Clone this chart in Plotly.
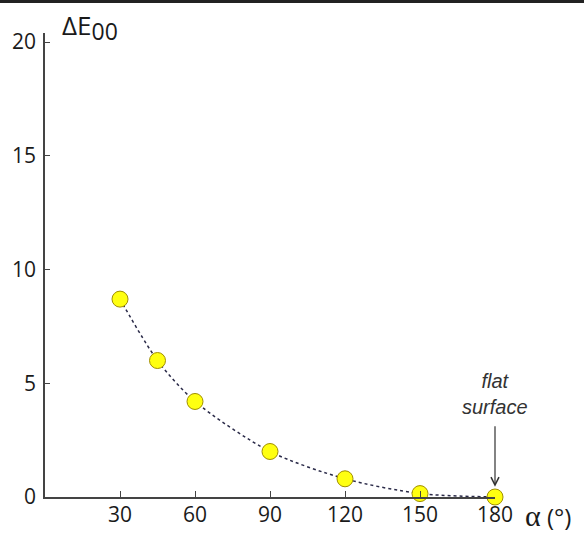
import plotly.graph_objects as go

angles = [30, 45, 60, 90, 120, 150, 180]
delta_e = [8.7, 6.0, 4.2, 2.0, 0.8, 0.15, 0.0]
x_ticks = [30, 60, 90, 120, 150, 180]
y_ticks = [0, 5, 10, 15, 20]

fig = go.Figure()
fig.add_trace(go.Scatter(
    x=angles, y=delta_e, mode="lines+markers",
    line=dict(color="#2a2a48", width=1.5, dash="dot", shape="spline", smoothing=0.8),
    marker=dict(size=16, color="#ffff10", line=dict(color="#a08e00", width=1)),
    cliponaxis=False, showlegend=False,
))

axis_font = dict(family="'Open Sans', Lato, sans-serif", size=21, color="#1a1a1a")
fig.update_xaxes(
    range=[0, 180], tickvals=x_ticks, ticks="inside", ticklen=6, tickcolor="#444",
    showline=True, linecolor="#444", linewidth=1.5, showgrid=False, zeroline=False,
    tickfont=axis_font, ticklabelstandoff=-2, automargin=False,
)
fig.update_yaxes(
    range=[0, 20.4], tickvals=y_ticks, ticks="inside", ticklen=5, tickcolor="#444",
    showline=True, linecolor="#444", linewidth=1.5, showgrid=False, zeroline=False,
    tickfont=axis_font, ticklabelstandoff=3, automargin=False,
)

fig.add_annotation(
    xref="paper", yref="paper", x=0.033, y=1.014, xanchor="left", yanchor="middle",
    text="ΔE<sub><span style='font-size:23px'>00</span></sub>", showarrow=False,
    font=dict(family="'Open Sans', Lato, sans-serif", size=26, color="#1a1a1a"),
)
fig.add_annotation(
    xref="paper", yref="paper", x=1.063, y=-0.04, xanchor="left", yanchor="middle",
    text="<span style='font-family:Liberation Serif;font-size:30px'>α</span> (°)", showarrow=False,
    font=dict(family="'Open Sans', Lato, sans-serif", size=24, color="#1a1a1a"),
)
fig.add_annotation(
    x=180, y=4.55, text="<i>flat<br>surface</i>", showarrow=False,
    font=dict(family="'Liberation Sans Narrow', 'Liberation Sans', Arial, sans-serif", size=20, color="#333"),
    xanchor="center", yanchor="middle",
)
fig.add_annotation(
    x=180, y=0.45, ax=0, ay=-62, text="", showarrow=True,
    arrowhead=5, arrowsize=1.3, arrowwidth=1.2, arrowcolor="#333",
)
fig.add_shape(
    type="line", xref="paper", yref="paper", x0=-0.2, x1=1.3, y0=1.068, y1=1.068,
    line=dict(color="#222", width=3),
)

fig.update_layout(
    width=584, height=534, margin=dict(l=45, r=89, t=33, b=37),
    paper_bgcolor="white", plot_bgcolor="white",
)
fig.write_html("out.html", config={"displayModeBar": False},
               post_script="document.body.style.margin='0px';")
